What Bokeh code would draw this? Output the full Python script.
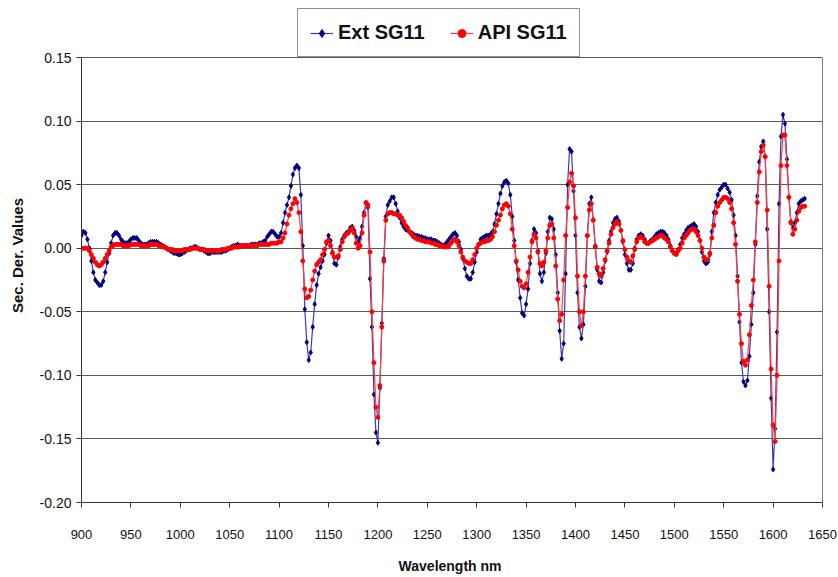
from bokeh.plotting import figure
from bokeh.models import (Legend, LegendItem, NumeralTickFormatter, FixedTicker, Range1d,
                          LinearAxis)
from bokeh.embed import file_html
from bokeh.resources import INLINE

# Wavelength grid (nm), 2 nm step from 900 to 1632
wavelength = list(range(900, 1634, 2))

ext_sg11 = [
    0.010, 0.013, 0.012, 0.007, 0.000, -0.010, -0.019, -0.025, -0.027, -0.029,   # 900-918
    -0.029, -0.026, -0.019, -0.011, -0.004, 0.004, 0.010, 0.012, 0.012, 0.010,   # 920-938
    0.007, 0.005, 0.004, 0.004, 0.005, 0.007, 0.008, 0.008, 0.008, 0.006,        # 940-958
    0.004, 0.003, 0.003, 0.003, 0.004, 0.005, 0.005, 0.005, 0.005, 0.004,        # 960-978
    0.003, 0.002, 0.001, 0.000, -0.001, -0.002, -0.003, -0.004, -0.004, -0.005,  # 980-998
    -0.005, -0.004, -0.003, -0.002, -0.001, 0.000, 0.000, 0.001, 0.001, 0.000,   # 1000-1018
    -0.001, -0.001, -0.002, -0.003, -0.004, -0.004, -0.003, -0.003, -0.003, -0.003,  # 1020-1038
    -0.003, -0.003, -0.002, -0.002, -0.001, 0.000, 0.001, 0.002, 0.002, 0.003,   # 1040-1058
    0.002, 0.002, 0.002, 0.002, 0.002, 0.002, 0.003, 0.003, 0.003, 0.003,        # 1060-1078
    0.004, 0.004, 0.005, 0.006, 0.009, 0.011, 0.013, 0.013, 0.011, 0.009,        # 1080-1098
    0.009, 0.012, 0.020, 0.028, 0.034, 0.040, 0.049, 0.058, 0.063, 0.065,        # 1100-1118
    0.063, 0.042, 0.002, -0.048, -0.074, -0.088, -0.082, -0.062, -0.044, -0.029, # 1120-1138
    -0.020, -0.015, -0.010, -0.005, 0.004, 0.010, 0.006, -0.003, -0.012, -0.013, # 1140-1158
    -0.007, 0.001, 0.007, 0.010, 0.012, 0.013, 0.016, 0.017, 0.014, 0.009,       # 1160-1178
    0.005, 0.008, 0.017, 0.028, 0.035, 0.032, -0.024, -0.062, -0.115, -0.145,    # 1180-1198
    -0.153, -0.110, -0.059, -0.008, 0.025, 0.034, 0.037, 0.040, 0.040, 0.035,    # 1200-1218
    0.029, 0.024, 0.020, 0.017, 0.015, 0.014, 0.013, 0.012, 0.011, 0.010,        # 1220-1238
    0.010, 0.009, 0.009, 0.008, 0.008, 0.007, 0.007, 0.007, 0.006, 0.006,        # 1240-1258
    0.005, 0.004, 0.003, 0.002, 0.003, 0.005, 0.007, 0.009, 0.011, 0.012,        # 1260-1278
    0.010, 0.005, -0.001, -0.008, -0.016, -0.022, -0.024, -0.024, -0.019, -0.011,  # 1280-1298
    -0.003, 0.003, 0.007, 0.008, 0.009, 0.010, 0.010, 0.011, 0.013, 0.019,       # 1300-1318
    0.027, 0.035, 0.043, 0.049, 0.052, 0.053, 0.051, 0.042, 0.025, 0.006,        # 1320-1338
    -0.011, -0.025, -0.039, -0.051, -0.053, -0.044, -0.032, -0.012, 0.006, 0.015,  # 1340-1358
    0.012, -0.002, -0.020, -0.026, -0.019, -0.004, 0.013, 0.024, 0.023, 0.015,   # 1360-1378
    -0.005, -0.035, -0.065, -0.087, -0.075, -0.020, 0.050, 0.078, 0.076, 0.045,  # 1380-1398
    0.010, -0.035, -0.062, -0.071, -0.060, -0.030, 0.010, 0.035, 0.040, 0.022,   # 1400-1418
    0.002, -0.017, -0.026, -0.027, -0.019, -0.010, -0.003, 0.006, 0.013, 0.020,  # 1420-1438
    0.023, 0.024, 0.021, 0.014, 0.005, -0.005, -0.012, -0.017, -0.017, -0.012,   # 1440-1458
    0.000, 0.007, 0.010, 0.011, 0.010, 0.007, 0.004, 0.004, 0.006, 0.007,        # 1460-1478
    0.009, 0.011, 0.012, 0.013, 0.013, 0.012, 0.010, 0.007, 0.002, -0.002,       # 1480-1498
    -0.004, -0.004, -0.001, 0.003, 0.008, 0.011, 0.014, 0.016, 0.017, 0.018,     # 1500-1518
    0.019, 0.017, 0.013, 0.006, -0.003, -0.010, -0.012, -0.011, -0.005, 0.013,   # 1520-1538
    0.028, 0.036, 0.042, 0.046, 0.048, 0.050, 0.050, 0.047, 0.044, 0.038,        # 1540-1558
    0.026, 0.010, -0.022, -0.058, -0.090, -0.105, -0.108, -0.104, -0.085, -0.060,  # 1560-1578
    -0.035, 0.003, 0.041, 0.068, 0.080, 0.084, 0.072, 0.015, -0.050, -0.118,     # 1580-1598
    -0.174, -0.142, -0.066, 0.035, 0.088, 0.105, 0.098, 0.070, 0.040, 0.021,     # 1600-1618
    0.016, 0.020, 0.028, 0.035, 0.037, 0.038, 0.039,                             # 1620-1632
]

api_sg11 = [
    0.000, 0.000, 0.000, 0.000, -0.002, -0.005, -0.008, -0.011, -0.013, -0.014,  # 900-918
    -0.013, -0.011, -0.008, -0.005, -0.002, 0.001, 0.002, 0.003, 0.003, 0.003,   # 920-938
    0.003, 0.002, 0.002, 0.002, 0.002, 0.003, 0.003, 0.003, 0.003, 0.003,        # 940-958
    0.002, 0.002, 0.002, 0.002, 0.002, 0.003, 0.003, 0.003, 0.003, 0.002,        # 960-978
    0.002, 0.001, 0.001, 0.000, -0.001, -0.001, -0.001, -0.002, -0.002, -0.002,  # 980-998
    -0.002, -0.002, -0.001, -0.001, -0.001, -0.001, 0.000, 0.000, 0.000, 0.000,  # 1000-1018
    -0.001, -0.001, -0.001, -0.002, -0.002, -0.002, -0.002, -0.002, -0.002, -0.002,  # 1020-1038
    -0.002, -0.001, -0.001, -0.001, 0.000, 0.000, 0.000, 0.001, 0.001, 0.001,    # 1040-1058
    0.001, 0.002, 0.002, 0.002, 0.002, 0.002, 0.002, 0.002, 0.002, 0.002,        # 1060-1078
    0.003, 0.003, 0.003, 0.003, 0.003, 0.003, 0.004, 0.004, 0.004, 0.004,        # 1080-1098
    0.005, 0.005, 0.008, 0.012, 0.019, 0.026, 0.031, 0.035, 0.039, 0.036,        # 1100-1118
    0.028, 0.013, -0.010, -0.032, -0.039, -0.038, -0.033, -0.025, -0.018, -0.013,  # 1120-1138
    -0.011, -0.009, -0.005, -0.001, 0.005, 0.006, 0.002, -0.004, -0.007, -0.007, # 1140-1158
    -0.006, -0.001, 0.005, 0.009, 0.011, 0.012, 0.014, 0.016, 0.012, 0.004,      # 1160-1178
    0.000, 0.002, 0.012, 0.026, 0.036, 0.034, -0.003, -0.050, -0.090, -0.125,    # 1180-1198
    -0.133, -0.108, -0.062, -0.010, 0.022, 0.027, 0.028, 0.028, 0.027, 0.027,    # 1200-1218
    0.026, 0.026, 0.024, 0.021, 0.018, 0.016, 0.013, 0.011, 0.009, 0.008,        # 1220-1238
    0.007, 0.007, 0.006, 0.006, 0.005, 0.005, 0.005, 0.004, 0.004, 0.003,        # 1240-1258
    0.003, 0.002, 0.002, 0.001, 0.001, 0.001, 0.002, 0.004, 0.006, 0.007,        # 1260-1278
    0.005, 0.002, -0.003, -0.007, -0.010, -0.011, -0.012, -0.012, -0.009, -0.005,  # 1280-1298
    0.000, 0.003, 0.004, 0.005, 0.005, 0.006, 0.006, 0.007, 0.009, 0.013,        # 1300-1318
    0.018, 0.022, 0.026, 0.031, 0.034, 0.035, 0.033, 0.027, 0.015, 0.002,        # 1320-1338
    -0.010, -0.017, -0.026, -0.030, -0.031, -0.028, -0.019, -0.007, 0.005, 0.011,  # 1340-1358
    0.008, -0.003, -0.012, -0.014, -0.011, -0.002, 0.008, 0.018, 0.019, 0.008,   # 1360-1378
    -0.014, -0.040, -0.057, -0.052, -0.025, 0.010, 0.032, 0.052, 0.059, 0.049,   # 1380-1398
    0.024, -0.022, -0.050, -0.061, -0.050, -0.022, 0.010, 0.030, 0.035, 0.022,   # 1400-1418
    0.001, -0.015, -0.020, -0.022, -0.016, -0.009, -0.002, 0.004, 0.011, 0.016,  # 1420-1438
    0.019, 0.021, 0.019, 0.014, 0.006, -0.001, -0.007, -0.010, -0.011, -0.006,   # 1440-1458
    -0.001, 0.005, 0.008, 0.009, 0.008, 0.005, 0.004, 0.004, 0.005, 0.006,       # 1460-1478
    0.007, 0.008, 0.009, 0.010, 0.010, 0.008, 0.007, 0.005, 0.001, -0.002,       # 1480-1498
    -0.004, -0.005, -0.002, 0.000, 0.004, 0.008, 0.010, 0.012, 0.014, 0.015,     # 1500-1518
    0.015, 0.013, 0.010, 0.006, 0.000, -0.007, -0.009, -0.009, -0.004, 0.008,    # 1520-1538
    0.018, 0.028, 0.033, 0.036, 0.038, 0.040, 0.040, 0.039, 0.036, 0.031,        # 1540-1558
    0.020, 0.003, -0.026, -0.052, -0.075, -0.089, -0.092, -0.088, -0.068, -0.045,  # 1560-1578
    -0.025, 0.005, 0.036, 0.060, 0.076, 0.081, 0.072, 0.030, -0.030, -0.095,     # 1580-1598
    -0.139, -0.152, -0.100, -0.010, 0.065, 0.089, 0.089, 0.065, 0.040, 0.020,    # 1600-1618
    0.011, 0.015, 0.022, 0.029, 0.032, 0.033, 0.033,                             # 1620-1632
]

x_ticks = list(range(900, 1700, 50))
y_ticks = [-0.20, -0.15, -0.10, -0.05, 0.00, 0.05, 0.10, 0.15]
y_min, y_max = -0.20, 0.15

FONT = "Liberation Sans"

# frame extends above 0.15 so the legend can sit inside it (axes are bounded to the data box)
p = figure(width=838, height=577, output_backend="svg", toolbar_location=None,
           x_range=Range1d(900, 1650), y_range=Range1d(y_min, 0.18854),
           min_border_left=81, min_border_right=16, min_border_top=8, min_border_bottom=75,
           background_fill_color="white", border_fill_color="white")

p.outline_line_color = None

p.xgrid.grid_line_color = None
p.ygrid.grid_line_color = "#5a5a5a"
p.ygrid.grid_line_width = 1.2

p.xaxis.ticker = FixedTicker(ticks=x_ticks)
p.yaxis.ticker = FixedTicker(ticks=y_ticks)
p.yaxis.formatter = NumeralTickFormatter(format="0.00")
p.yaxis.bounds = (y_min, y_max)

for ax in (p.xaxis, p.yaxis):
    ax.axis_line_color = "#333333"
    ax.major_tick_line_color = "#333333"
    ax.major_tick_out = 5
    ax.major_tick_in = 0
    ax.minor_tick_line_color = None
    ax.major_label_text_font = FONT
    ax.major_label_text_color = "#111111"
    ax.axis_label_text_font = FONT
    ax.axis_label_text_font_style = "bold"
    ax.axis_label_text_color = "#111111"

p.xaxis.major_label_text_font_size = "13px"
p.yaxis.major_label_text_font_size = "14px"
p.xaxis.axis_label_text_font_size = "14px"
p.yaxis.axis_label_text_font_size = "15px"

p.xaxis.major_label_standoff = 22
p.yaxis.major_label_standoff = 5
p.xaxis.axis_label = "Wavelength  nm"
p.yaxis.axis_label = "Sec. Der. Values"
p.xaxis.axis_label_standoff = 16
p.yaxis.axis_label_standoff = 11

# right-hand border of the data box
right_axis = LinearAxis(ticker=FixedTicker(ticks=[]), bounds=(y_min, y_max),
                        axis_line_color="#7a7a7a", major_tick_line_color=None,
                        minor_tick_line_color=None, major_label_text_font_size="0px")
p.add_layout(right_axis, "right")

ext_line = p.line(wavelength, ext_sg11, line_color="#3a3ab4", line_width=1.2)
ext_pts = p.scatter(wavelength, ext_sg11, marker="diamond", size=5,
                    fill_color="#000080", line_color="#000080")
api_line = p.line(wavelength, api_sg11, line_color="#ff3b3b", line_width=1.2)
api_pts = p.scatter(wavelength, api_sg11, marker="circle", size=4,
                    fill_color="#ff0000", line_color="#ff0000")

legend = Legend(items=[LegendItem(label="Ext SG11", renderers=[ext_line, ext_pts]),
                       LegendItem(label="API SG11", renderers=[api_line, api_pts])],
                orientation="horizontal", location=(216, 445), margin=0,
                padding=12, spacing=25, label_standoff=5,
                glyph_width=23, glyph_height=20,
                label_text_font=FONT, label_text_font_size="20px",
                label_text_font_style="bold", label_text_color="#111111",
                border_line_color="#222222", border_line_width=1,
                background_fill_color="white", background_fill_alpha=1.0)
p.add_layout(legend, "center")

open("out.html", "w").write(file_html(p, INLINE))
